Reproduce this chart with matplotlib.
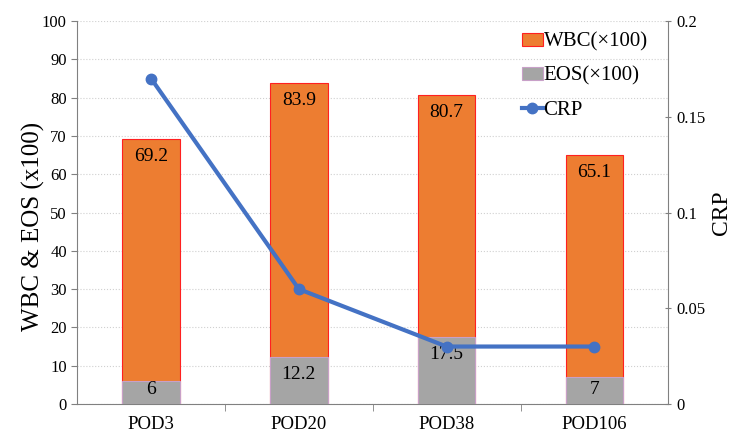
import matplotlib.pyplot as plt
import numpy as np

plt.rcParams['font.family'] = ['Liberation Serif', 'DejaVu Serif']

categories = ['POD3', 'POD20', 'POD38', 'POD106']
wbc = [69.2, 83.9, 80.7, 65.1]
eos = [6, 12.2, 17.5, 7]
crp = [0.17, 0.06, 0.03, 0.03]

x = np.arange(len(categories))
width = 0.39

fig, ax = plt.subplots(figsize=(7.5, 4.41), dpi=100)
fig.subplots_adjust(left=0.103, right=0.891, top=0.952, bottom=0.084)

b1 = ax.bar(x, wbc, width, color='#ED7D31', edgecolor='#FF2020', linewidth=0.8,
            label='WBC(×100)', zorder=2)
b2 = ax.bar(x, eos, width, color='#A5A5A5', edgecolor='#C8A0C8', linewidth=0.8,
            label='EOS(×100)', zorder=3)

# labels sit just inside the top of each bar (kept off the baseline for short bars)
for xi, v in zip(x, wbc):
    ax.text(xi, v - 4.6, f'{v:g}', ha='center', va='center', fontsize=14, zorder=5)
for xi, v in zip(x, eos):
    ax.text(xi, max(v - 4.6, 3.7), f'{v:g}', ha='center', va='center', fontsize=14, zorder=5)

ax.set_ylim(0, 100)
ax.set_yticks(range(0, 101, 10))
ax.set_xlim(-0.5, len(categories) - 0.5)
ax.set_xticks(x)
ax.set_xticklabels(categories, fontsize=13.5)
ax.set_xticks(np.arange(0.5, len(categories) - 1, 1), minor=True)
ax.tick_params(axis='x', which='major', length=0, pad=9)
ax.tick_params(axis='x', which='minor', length=5, color='#808080')
ax.tick_params(axis='y', labelsize=12, color='#808080', length=4)
ax.set_ylabel('WBC & EOS (x100)', fontsize=18)
ax.yaxis.set_label_coords(-0.054, 0.465)
ax.yaxis.grid(True, color='#D0D0D0', linestyle=':', linewidth=0.8, zorder=0)
ax.set_axisbelow(True)
for s in ['top', 'right']:
    ax.spines[s].set_visible(False)
ax.spines['left'].set_color('#808080')
ax.spines['bottom'].set_color('#808080')

ax2 = ax.twinx()
line, = ax2.plot(x, crp, color='#4472C4', linewidth=3, marker='o', markersize=7.5,
                 label='CRP', zorder=6)
ax2.set_ylim(0, 0.2)
ax2.set_yticks([0, 0.05, 0.1, 0.15, 0.2])
ax2.set_yticklabels(['0', '0.05', '0.1', '0.15', '0.2'])
ax2.tick_params(axis='y', labelsize=12, color='#808080', length=4, direction='inout')
ax2.set_ylabel('CRP', fontsize=17)
for s in ['top', 'left', 'bottom']:
    ax2.spines[s].set_visible(False)
ax2.spines['right'].set_color('#808080')

ax.legend([b1, b2, line], ['WBC(×100)', 'EOS(×100)', 'CRP'], loc='upper right',
          bbox_to_anchor=(0.997, 1.02), frameon=False, fontsize=15,
          handlelength=1.0, handleheight=0.6, handletextpad=0.05, labelspacing=0.72)

fig.savefig('out.png', dpi=100)
